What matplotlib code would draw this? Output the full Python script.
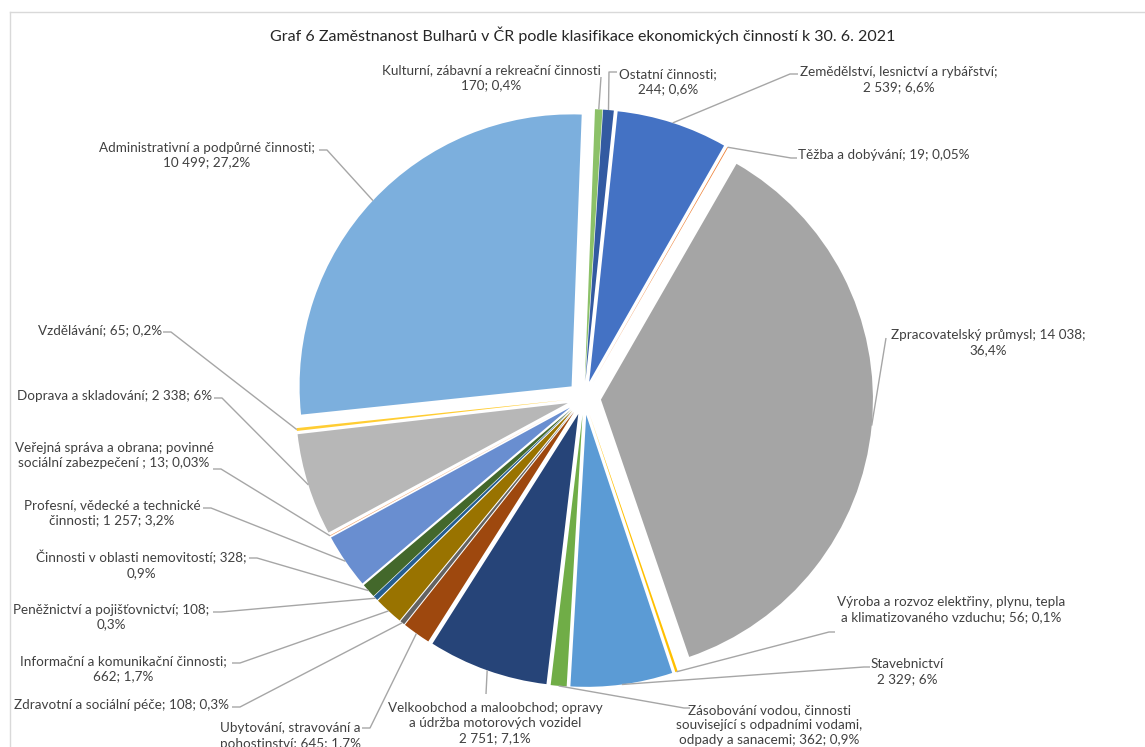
import numpy as np
import matplotlib
matplotlib.use("Agg")
import matplotlib.pyplot as plt

plt.rcParams['font.family'] = ['Lato', 'DejaVu Sans']

# ---------------- data ----------------
categories = [
    "Zemědělství, lesnictví a rybářství",
    "Těžba a dobývání",
    "Zpracovatelský průmysl",
    "Výroba a rozvoz elektřiny, plynu, tepla a klimatizovaného vzduchu",
    "Stavebnictví",
    "Zásobování vodou, činnosti související s odpadními vodami, odpady a sanacemi",
    "Velkoobchod a maloobchod; opravy a údržba motorových vozidel",
    "Ubytování, stravování a pohostinství",
    "Zdravotní a sociální péče",
    "Informační a komunikační činnosti",
    "Peněžnictví a pojišťovnictví",
    "Činnosti v oblasti nemovitostí",
    "Profesní, vědecké a technické činnosti",
    "Veřejná správa a obrana; povinné sociální zabezpečení",
    "Doprava a skladování",
    "Vzdělávání",
    "Administrativní a podpůrné činnosti",
    "Kulturní, zábavní a rekreační činnosti",
    "Ostatní činnosti",
]
values = [2539, 19, 14038, 56, 2329, 362, 2751, 645, 108, 662, 108, 328,
          1257, 13, 2338, 65, 10499, 170, 244]
label_texts = [
    "Zemědělství, lesnictví a rybářství;\n2 539; 6,6%",
    "Těžba a dobývání; 19; 0,05%",
    "Zpracovatelský průmysl; 14 038;\n36,4%",
    "Výroba a rozvoz elektřiny, plynu, tepla\na klimatizovaného vzduchu; 56; 0,1%",
    "Stavebnictví\n2 329; 6%",
    "Zásobování vodou, činnosti\nsouvisející s odpadními vodami,\nodpady a sanacemi; 362; 0,9%",
    "Velkoobchod a maloobchod; opravy\na údržba motorových vozidel\n2 751; 7,1%",
    "Ubytování, stravování a\npohostinství; 645; 1,7%",
    "Zdravotní a sociální péče; 108; 0,3%",
    "Informační a komunikační činnosti;\n662; 1,7%",
    "Peněžnictví a pojišťovnictví; 108;\n0,3%",
    "Činnosti v oblasti nemovitostí; 328;\n0,9%",
    "Profesní, vědecké a technické\nčinnosti; 1 257; 3,2%",
    "Veřejná správa a obrana; povinné\nsociální zabezpečení ; 13; 0,03%",
    "Doprava a skladování; 2 338; 6%",
    "Vzdělávání; 65; 0,2%",
    "Administrativní a podpůrné činnosti;\n10 499; 27,2%",
    "Kulturní, zábavní a rekreační činnosti\n170; 0,4%",
    "Ostatní činnosti;\n244; 0,6%",
]
title = "Graf 6 Zaměstnanost Bulharů v ČR podle klasifikace ekonomických činností k 30. 6. 2021"

# ---------------- style / layout ----------------
colors = ["#4472C4", "#ED7D31", "#A5A5A5", "#FFC000", "#5B9BD5", "#70AD47",
          "#264478", "#9E480E", "#636363", "#997300", "#255E91", "#43682B",
          "#698ED0", "#F1975A", "#B7B7B7", "#FFCD33", "#7CAFDD", "#8CC168",
          "#335AA1"]

W, H = 1145, 747
CX, CY, R = 584.0, 398.0, 272.0      # pie centre / radius in pixels
EXPL = 17.0 / R

# label centre (px) and leader path start points (px)
label_pos = [(899, 80), (884, 155), (988, 343), (951, 610), (907, 672),
             (769, 725), (495, 723), (290, 736), (121, 705), (123, 669),
             (111, 617), (141, 564), (112, 513), (114, 456), (115, 396),
             (100, 330), (207, 155), (491, 78), (668, 82)]
leader_start = [
    [(798, 74), (790, 74)],
    [(797, 158), (791, 158)],
    [(886, 338)],
    [(835, 632), (829, 632)],
    [(870, 667), (864, 667)],
    [(690, 708), (684, 708)],
    [(486, 694)],
    [(362, 728), (370, 728)],
    [(232, 707), (240, 707)],
    [(232, 663), (240, 663)],
    [(213, 612), (221, 612)],
    [(249, 558), (257, 558)],
    [(203, 508), (211, 508)],
    [(213, 469), (221, 469)],
    [(214, 398), (222, 398)],
    [(163, 332), (171, 332)],
    [(319, 150), (327, 150)],
    [(601, 77)],
    [(617, 72), (609, 72)],
]


def P(x, y):
    """pixel -> data coordinates"""
    return (x - CX) / R, (CY - y) / R


fig = plt.figure(figsize=(W / 100, H / 100), dpi=100)
ax = fig.add_axes([0, 0, 1, 1])

wedges, _ = ax.pie(values, colors=colors, startangle=84, counterclock=False,
                   explode=[EXPL] * len(values), radius=1.0,
                   wedgeprops=dict(linewidth=0))

ax.set_xlim(P(0, 0)[0], P(W, 0)[0])
ax.set_ylim(P(0, H)[1], P(0, 0)[1])
ax.set_aspect('equal', adjustable='box')
ax.axis('off')

txt_color = "#404040"
line_color = "#A6A6A6"
for w, txt, (lx, ly), starts in zip(wedges, label_texts, label_pos, leader_start):
    th = np.deg2rad(0.5 * (w.theta1 + w.theta2))
    ex = w.center[0] + w.r * np.cos(th)
    ey = w.center[1] + w.r * np.sin(th)
    pts = [P(*p) for p in starts] + [(ex, ey)]
    xs, ys = zip(*pts)
    ax.plot(xs, ys, color=line_color, lw=1.0, solid_capstyle='butt', zorder=1)
    tx, ty = P(lx, ly)
    ax.text(tx, ty, txt, ha='center', va='center', multialignment='center',
            fontsize=9.7, color=txt_color, linespacing=1.3)

tx, ty = P(583, 35)
ax.text(tx, ty, title, ha='center', va='center', fontsize=11.5, color="#262626")

# chart area border (top and left edges visible)
ax.plot([P(10, 12)[0], P(W, 12)[0]], [P(10, 12)[1], P(W, 12)[1]],
        color="#D9D9D9", lw=1.0, clip_on=False)
ax.plot([P(10, 12)[0], P(10, H)[0]], [P(10, 12)[1], P(10, H)[1]],
        color="#D9D9D9", lw=1.0, clip_on=False)

fig.savefig("out.png", dpi=100, facecolor="white")
